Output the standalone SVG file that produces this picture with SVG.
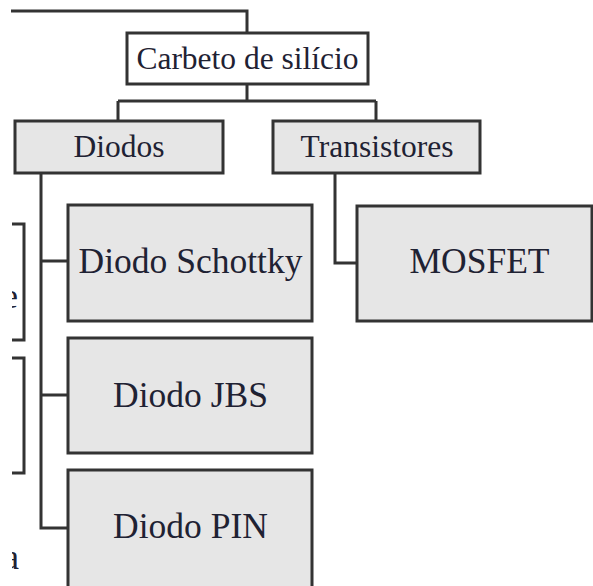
<svg xmlns="http://www.w3.org/2000/svg" width="593" height="586" viewBox="0 0 593 586">
<style>
.box{fill:#e6e6e6;stroke:#333;stroke-width:3}
.wbox{fill:#fff;stroke:#333;stroke-width:3}
.ln{fill:none;stroke:#333;stroke-width:3}
text{font-family:Liberation Serif, Times New Roman, Times, Tinos, serif;fill:#1f2233;text-anchor:middle}
.s{font-size:31.5px}
.b{font-size:35.5px}
.e{text-anchor:end}
</style>
<defs><clipPath id="cl"><rect x="12" y="0" width="581" height="586"/></clipPath></defs>
<rect width="593" height="586" fill="#fff"/>
<g id="connectors">
<path class="ln" d="M11 11 H247 V33"/>
<path class="ln" d="M247 84 V101 M118 101 H376 M118 101 V121 M376 101 V121"/>
<path class="ln" d="M41 173 V528 H68 M41 261 H68 M41 395 H68"/>
<path class="ln" d="M335 173 V263 H357"/>
<path class="ln" d="M12 224 H24 V340 H12 M12 358 H24 V473 H12"/>
</g>
<g id="partial" clip-path="url(#cl)">
<text class="b e" x="18" y="308">e</text>
<text class="b e" x="19" y="569">a</text>
</g>
<g id="carbeto"><rect class="wbox" x="127" y="33" width="241" height="51"/><text class="s" x="247.5" y="69">Carbeto de silício</text></g>
<g id="diodos"><rect class="box" x="15" y="121" width="208" height="52"/><text class="s" x="119" y="157">Diodos</text></g>
<g id="transistores"><rect class="box" x="273" y="121" width="207" height="52"/><text class="s" x="377" y="157">Transistores</text></g>
<g id="schottky"><rect class="box" x="68" y="205" width="244" height="116"/><text class="b" x="190.5" y="273">Diodo Schottky</text></g>
<g id="jbs"><rect class="box" x="68" y="338" width="244" height="115"/><text class="b" x="190.5" y="407">Diodo JBS</text></g>
<g id="pin"><rect class="box" x="68" y="470" width="244" height="130"/><text class="b" x="190.5" y="538">Diodo PIN</text></g>
<g id="mosfet"><rect class="box" x="357" y="206" width="235" height="115"/><text class="b" x="479.5" y="273">MOSFET</text></g>
</svg>
